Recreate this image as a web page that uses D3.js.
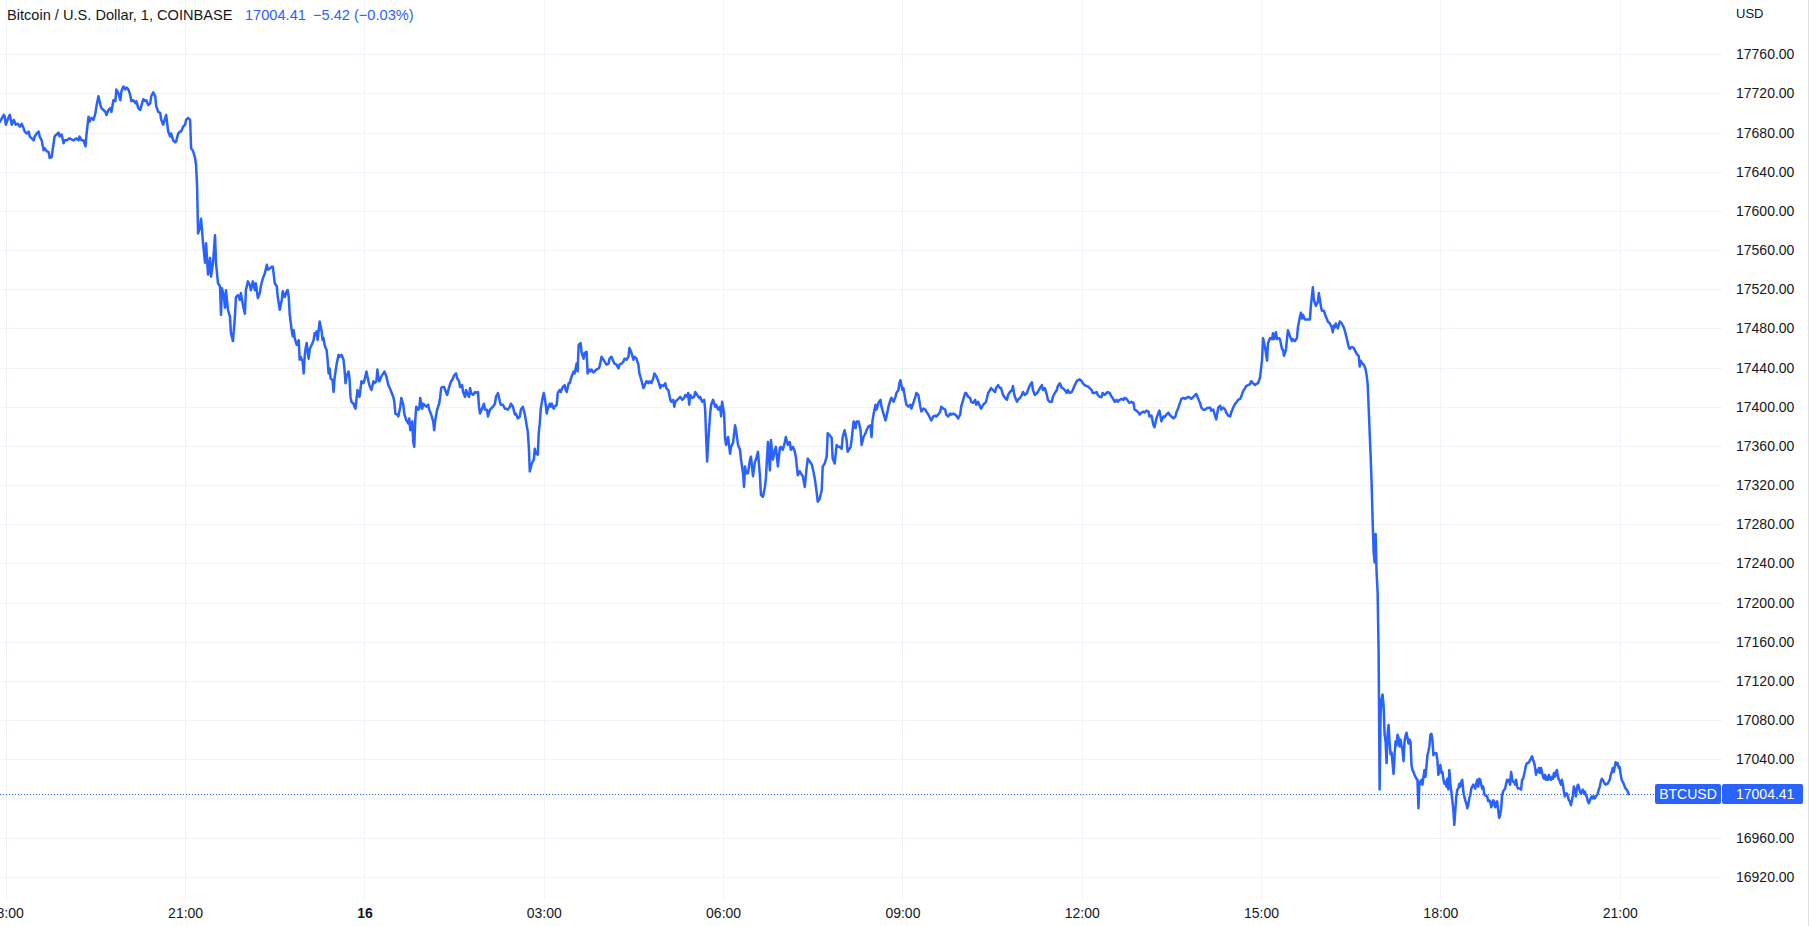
<!DOCTYPE html>
<html><head><meta charset="utf-8">
<script src="https://cdn.jsdelivr.net/npm/d3@7"></script>
<style>
html,body{margin:0;padding:0;background:#fff;}
svg{display:block;font-family:"Liberation Sans",Arial,sans-serif;}
</style></head><body>
<svg id="chart" width="1810" height="926"></svg>
<script>
// ---- data (1-minute closes, minutes after 2022-12-15 18:00 UTC) ----
const minuteCloses = [
[-6,17691],[-2,17698],[-1,17696],[0,17688],[3,17696],[4,17698],[6,17688],[8,17693],[10,17688],[12,17689],
[14,17686],[16,17689],[18,17684],[19,17681],[21,17679],[23,17681],[24,17676],[26,17674],[28,17672],[29,17676],
[31,17679],[33,17681],[34,17676],[36,17672],[38,17662],[39,17664],[41,17661],[43,17660],[44,17654],[46,17655],
[48,17669],[49,17676],[51,17678],[53,17680],[54,17676],[56,17678],[58,17669],[59,17672],[61,17672],[64,17674],
[68,17672],[71,17674],[73,17672],[74,17676],[76,17672],[78,17672],[80,17666],[81,17678],[83,17696],[84,17691],
[86,17695],[88,17693],[90,17700],[91,17707],[93,17717],[95,17708],[96,17705],[98,17703],[100,17701],[101,17698],
[103,17703],[105,17705],[106,17701],[108,17713],[110,17712],[111,17724],[113,17720],[115,17713],[116,17722],[118,17727],
[120,17724],[121,17726],[123,17724],[125,17718],[126,17712],[128,17713],[130,17710],[131,17712],[133,17705],[135,17703],
[136,17707],[138,17714],[140,17712],[141,17713],[143,17708],[145,17710],[146,17717],[148,17721],[150,17717],[151,17707],
[153,17701],[155,17700],[156,17693],[158,17688],[160,17695],[161,17698],[163,17681],[165,17676],[166,17679],[168,17672],
[170,17670],[171,17671],[173,17679],[175,17681],[176,17681],[178,17686],[180,17688],[181,17693],[183,17695],[185,17693],
[186,17664],[188,17661],[190,17654],[191,17647],[192,17625],[193,17577],[195,17584],[196,17592],[198,17567],[200,17547],
[201,17567],[203,17535],[205,17552],[206,17533],[208,17547],[210,17575],[211,17547],[213,17526],[215,17523],[216,17494],
[217,17521],[219,17512],[220,17501],[221,17519],[223,17499],[225,17492],[226,17475],[228,17467],[230,17492],[231,17512],
[233,17514],[235,17509],[236,17516],[238,17504],[240,17495],[241,17519],[243,17528],[245,17524],[246,17519],[248,17528],
[250,17519],[251,17526],[253,17511],[255,17516],[256,17523],[258,17531],[260,17536],[262,17545],[263,17540],[265,17541],
[267,17543],[268,17543],[270,17526],[272,17523],[273,17512],[275,17499],[277,17509],[278,17518],[280,17512],[282,17518],
[283,17519],[284,17512],[285,17494],[287,17478],[288,17472],[289,17478],[290,17470],[292,17463],[294,17468],[295,17448],
[296,17451],[298,17446],[299,17434],[300,17451],[301,17460],[302,17465],[304,17449],[305,17458],[306,17461],[307,17463],
[309,17468],[310,17475],[311,17473],[312,17477],[313,17468],[314,17477],[315,17487],[317,17477],[318,17468],[319,17470],
[320,17463],[322,17458],[323,17448],[324,17434],[325,17439],[326,17429],[328,17427],[329,17415],[330,17429],[332,17443],
[334,17453],[335,17451],[337,17453],[339,17448],[340,17438],[341,17424],[342,17431],[344,17436],[345,17429],[346,17410],
[347,17405],[349,17403],[350,17400],[351,17398],[353,17417],[354,17414],[355,17410],[357,17426],[359,17424],[360,17427],
[362,17436],[364,17426],[365,17422],[367,17417],[369,17426],[370,17424],[372,17426],[373,17438],[374,17429],[375,17426],
[377,17431],[379,17434],[380,17436],[382,17431],[384,17422],[385,17420],[387,17415],[389,17410],[390,17405],[391,17393],
[393,17392],[394,17390],[396,17400],[397,17409],[399,17402],[400,17393],[402,17386],[404,17383],[405,17388],[406,17376],
[408,17385],[409,17364],[410,17359],[411,17386],[412,17400],[414,17397],[415,17398],[416,17409],[418,17398],[419,17403],
[420,17402],[422,17400],[424,17402],[425,17397],[427,17392],[429,17385],[430,17376],[431,17386],[433,17397],[435,17403],
[436,17410],[437,17419],[438,17420],[440,17420],[441,17417],[443,17412],[445,17420],[447,17426],[448,17427],[450,17432],
[452,17434],[453,17429],[455,17426],[456,17420],[458,17422],[459,17415],[461,17410],[462,17417],[463,17414],[465,17410],
[466,17419],[467,17414],[469,17412],[471,17415],[472,17414],[474,17415],[475,17400],[476,17393],[478,17398],[480,17403],
[481,17397],[483,17397],[484,17390],[486,17397],[487,17398],[489,17400],[491,17403],[492,17410],[494,17414],[496,17405],
[497,17402],[499,17402],[501,17398],[502,17398],[504,17397],[506,17400],[507,17403],[509,17400],[511,17392],[512,17393],
[514,17388],[516,17390],[517,17397],[519,17400],[521,17392],[522,17386],[524,17374],[525,17359],[526,17334],[528,17342],
[530,17346],[531,17357],[532,17352],[534,17351],[535,17374],[536,17383],[537,17398],[539,17410],[540,17414],[541,17409],
[542,17402],[543,17393],[544,17398],[546,17403],[547,17400],[548,17403],[550,17398],[551,17400],[553,17402],[554,17414],
[556,17417],[557,17415],[559,17420],[561,17422],[562,17417],[563,17415],[565,17424],[566,17424],[568,17431],[570,17436],
[571,17434],[573,17444],[574,17436],[575,17463],[577,17465],[578,17455],[580,17449],[581,17455],[583,17456],[584,17434],
[586,17438],[587,17436],[588,17438],[590,17435],[591,17436],[593,17438],[595,17439],[596,17441],[598,17451],[600,17448],
[601,17446],[603,17443],[605,17444],[606,17449],[608,17451],[610,17446],[611,17444],[613,17443],[615,17439],[616,17443],
[618,17444],[620,17446],[621,17449],[623,17448],[625,17451],[626,17460],[628,17455],[630,17448],[631,17451],[633,17449],
[635,17443],[636,17434],[638,17427],[640,17419],[641,17421],[643,17426],[645,17424],[646,17426],[648,17424],[650,17429],
[651,17434],[653,17431],[655,17426],[657,17419],[658,17422],[660,17421],[662,17424],[663,17419],[665,17417],[667,17407],
[668,17405],[670,17407],[671,17400],[672,17405],[674,17407],[676,17409],[677,17410],[679,17407],[681,17409],[682,17412],
[684,17410],[685,17414],[686,17402],[687,17412],[689,17409],[691,17410],[692,17415],[694,17412],[696,17409],[697,17410],
[699,17405],[701,17407],[702,17397],[703,17369],[704,17344],[705,17363],[707,17393],[708,17402],[710,17407],[712,17400],
[713,17402],[715,17397],[717,17400],[718,17390],[719,17405],[721,17393],[722,17368],[723,17361],[725,17369],[727,17352],
[728,17359],[730,17363],[732,17381],[733,17376],[735,17361],[737,17356],[738,17346],[740,17332],[741,17318],[742,17339],
[743,17332],[745,17332],[747,17346],[748,17349],[750,17329],[752,17344],[753,17346],[755,17354],[757,17329],[758,17310],
[760,17308],[762,17318],[763,17327],[765,17364],[767,17335],[768,17366],[770,17346],[772,17356],[773,17359],[775,17339],
[777,17358],[778,17359],[780,17356],[782,17364],[783,17369],[785,17361],[787,17364],[788,17356],[790,17359],[792,17354],
[793,17349],[795,17330],[797,17334],[798,17332],[800,17329],[802,17318],[804,17339],[805,17347],[807,17344],[809,17341],
[810,17337],[812,17327],[814,17312],[815,17303],[817,17306],[819,17315],[820,17339],[822,17342],[824,17349],[825,17373],
[827,17371],[829,17368],[830,17347],[832,17342],[834,17361],[835,17359],[837,17359],[839,17357],[840,17369],[842,17376],
[844,17366],[845,17354],[848,17359],[849,17366],[851,17385],[853,17378],[854,17385],[856,17385],[858,17376],[859,17361],
[861,17369],[863,17373],[864,17376],[866,17380],[868,17381],[869,17369],[870,17386],[871,17392],[873,17402],[874,17397],
[876,17404],[878,17407],[879,17400],[881,17393],[883,17386],[884,17390],[886,17400],[888,17407],[889,17409],[891,17405],
[893,17410],[894,17414],[896,17417],[897,17424],[898,17427],[900,17417],[901,17419],[903,17407],[904,17402],[906,17400],
[908,17402],[909,17398],[911,17404],[913,17410],[914,17414],[916,17412],[918,17400],[919,17395],[921,17398],[923,17397],
[924,17395],[926,17392],[928,17388],[929,17386],[931,17390],[933,17391],[934,17390],[936,17392],[938,17395],[939,17400],
[941,17398],[943,17397],[944,17392],[946,17390],[948,17393],[949,17392],[951,17393],[953,17392],[954,17391],[956,17388],
[958,17392],[959,17400],[961,17407],[963,17414],[964,17414],[966,17410],[968,17409],[969,17405],[971,17404],[973,17407],
[974,17402],[976,17405],[978,17400],[979,17398],[981,17402],[983,17404],[984,17405],[986,17414],[988,17417],[989,17419],
[991,17417],[993,17415],[994,17419],[996,17422],[998,17419],[999,17419],[1001,17412],[1003,17409],[1005,17407],[1006,17412],
[1008,17415],[1010,17417],[1011,17421],[1012,17414],[1013,17410],[1015,17405],[1016,17407],[1018,17409],[1020,17412],[1021,17415],
[1023,17412],[1025,17414],[1026,17417],[1028,17422],[1030,17425],[1031,17417],[1033,17412],[1035,17414],[1036,17415],[1038,17419],
[1040,17422],[1041,17417],[1043,17419],[1045,17412],[1046,17407],[1048,17405],[1050,17405],[1051,17410],[1053,17414],[1055,17417],
[1056,17421],[1058,17424],[1060,17419],[1061,17419],[1063,17417],[1065,17414],[1066,17417],[1068,17414],[1070,17415],[1071,17417],
[1073,17422],[1075,17426],[1076,17427],[1078,17428],[1080,17426],[1081,17424],[1083,17422],[1085,17421],[1086,17421],[1088,17419],
[1090,17417],[1091,17414],[1093,17414],[1095,17415],[1096,17412],[1098,17410],[1100,17410],[1101,17414],[1103,17412],[1105,17414],
[1106,17415],[1108,17414],[1110,17410],[1111,17409],[1113,17405],[1115,17407],[1116,17405],[1118,17407],[1120,17408],[1122,17407],
[1123,17409],[1125,17408],[1127,17405],[1128,17404],[1130,17405],[1132,17404],[1133,17397],[1135,17396],[1137,17394],[1138,17392],
[1140,17394],[1142,17395],[1143,17394],[1145,17396],[1147,17395],[1148,17390],[1150,17391],[1152,17381],[1153,17379],[1155,17388],
[1157,17394],[1158,17396],[1160,17385],[1162,17390],[1163,17389],[1165,17392],[1167,17394],[1168,17392],[1170,17390],[1172,17388],
[1174,17390],[1175,17394],[1177,17399],[1179,17405],[1180,17408],[1182,17409],[1184,17408],[1185,17409],[1187,17410],[1189,17409],
[1190,17408],[1192,17410],[1194,17412],[1195,17413],[1197,17408],[1199,17403],[1200,17399],[1202,17397],[1204,17397],[1205,17398],
[1207,17399],[1209,17399],[1210,17396],[1212,17397],[1214,17390],[1215,17387],[1217,17399],[1219,17401],[1220,17397],[1222,17399],
[1224,17397],[1225,17394],[1227,17391],[1229,17390],[1230,17394],[1232,17399],[1234,17403],[1235,17404],[1237,17407],[1239,17408],
[1240,17410],[1242,17416],[1244,17419],[1245,17421],[1247,17422],[1249,17423],[1250,17426],[1252,17424],[1254,17422],[1255,17423],
[1257,17424],[1259,17430],[1261,17448],[1262,17470],[1264,17461],[1266,17447],[1267,17465],[1269,17470],[1271,17469],[1272,17475],
[1273,17469],[1274,17472],[1275,17476],[1276,17469],[1278,17470],[1279,17469],[1281,17459],[1282,17458],[1283,17452],[1285,17458],
[1286,17469],[1287,17478],[1289,17472],[1291,17467],[1292,17469],[1294,17467],[1296,17470],[1297,17481],[1299,17492],[1300,17496],
[1301,17490],[1302,17494],[1304,17489],[1306,17489],[1307,17489],[1309,17489],[1310,17503],[1312,17522],[1313,17509],[1315,17503],
[1316,17505],[1317,17507],[1318,17516],[1320,17503],[1321,17498],[1323,17498],[1325,17492],[1326,17490],[1327,17487],[1329,17485],
[1331,17481],[1332,17476],[1333,17483],[1334,17481],[1335,17485],[1337,17480],[1338,17483],[1339,17487],[1341,17485],[1343,17481],
[1344,17478],[1346,17470],[1348,17461],[1349,17459],[1351,17461],[1353,17460],[1354,17458],[1356,17454],[1358,17452],[1359,17441],
[1360,17447],[1361,17445],[1363,17443],[1364,17441],[1365,17438],[1366,17432],[1367,17423],[1368,17400],[1369,17374],[1370,17350],
[1371,17321],[1372,17284],[1373,17252],[1374,17241],[1375,17270],[1376,17230],[1377,17211],[1378,17150],[1379,17009],[1380,17087],
[1381,17102],[1382,17106],[1383,17095],[1384,17065],[1385,17058],[1386,17036],[1387,17065],[1388,17075],[1389,17058],[1390,17045],
[1391,17047],[1392,17036],[1393,17025],[1394,17044],[1395,17058],[1396,17054],[1397,17065],[1398,17062],[1399,17053],[1400,17060],
[1401,17054],[1402,17049],[1403,17038],[1404,17058],[1405,17064],[1406,17067],[1407,17062],[1408,17056],[1409,17060],[1410,17058],
[1411,17034],[1412,17029],[1413,17027],[1414,17024],[1415,17022],[1416,17020],[1417,17019],[1418,16990],[1419,17017],[1420,17015],
[1421,17019],[1422,17014],[1423,17022],[1424,17029],[1425,17022],[1426,17032],[1427,17044],[1428,17048],[1429,17053],[1430,17065],
[1431,17066],[1432,17060],[1433,17044],[1434,17046],[1435,17046],[1436,17046],[1437,17039],[1438,17024],[1439,17029],[1440,17034],
[1441,17026],[1442,17027],[1443,17020],[1444,17015],[1445,17017],[1446,17012],[1447,17020],[1448,17009],[1449,17029],[1450,17015],
[1451,17007],[1452,16998],[1453,16988],[1454,16973],[1455,16988],[1456,17002],[1457,17009],[1458,17010],[1459,17015],[1460,17012],
[1461,17017],[1462,17019],[1463,17007],[1464,17002],[1465,16998],[1466,16995],[1467,16990],[1468,16993],[1469,17000],[1470,17003],
[1471,17010],[1472,17012],[1473,17014],[1474,17012],[1475,17010],[1476,17015],[1477,17019],[1478,17012],[1479,17020],[1480,17019],
[1481,17014],[1482,17010],[1483,17012],[1484,17005],[1485,17003],[1486,17003],[1487,17002],[1488,16997],[1489,16998],[1490,16997],
[1491,16991],[1492,16993],[1493,16998],[1494,16997],[1495,16991],[1496,16995],[1497,16997],[1498,16988],[1499,16980],[1500,16983],
[1501,16990],[1502,17003],[1503,17007],[1504,17009],[1505,17010],[1506,17015],[1507,17019],[1508,17017],[1509,17019],[1510,17014],
[1511,17027],[1512,17020],[1513,17017],[1514,17017],[1515,17014],[1516,17019],[1517,17012],[1518,17010],[1519,17010],[1520,17010],
[1521,17009],[1522,17019],[1523,17020],[1524,17024],[1525,17029],[1526,17034],[1527,17036],[1528,17036],[1529,17037],[1530,17039],
[1531,17041],[1532,17043],[1533,17039],[1534,17037],[1535,17032],[1536,17024],[1537,17029],[1538,17027],[1539,17031],[1540,17026],
[1541,17031],[1542,17027],[1543,17022],[1544,17020],[1545,17024],[1546,17019],[1547,17022],[1548,17019],[1549,17024],[1550,17020],
[1551,17019],[1552,17022],[1553,17020],[1554,17026],[1555,17022],[1556,17027],[1557,17029],[1558,17022],[1559,17019],[1560,17017],
[1561,17014],[1562,17019],[1563,17014],[1564,17007],[1565,17002],[1566,17005],[1567,17005],[1568,17002],[1569,16998],[1570,16997],
[1571,16993],[1572,16998],[1573,17003],[1574,17012],[1575,17009],[1576,17002],[1577,17010],[1578,17014],[1579,17012],[1580,17007],
[1581,17005],[1582,17007],[1583,17009],[1584,17005],[1585,17007],[1586,17003],[1587,17002],[1588,16997],[1589,16995],[1590,16998],
[1591,17000],[1592,17002],[1593,17000],[1594,17002],[1595,17000],[1596,17002],[1597,17003],[1598,17005],[1599,17009],[1600,17012],
[1601,17017],[1602,17020],[1603,17019],[1604,17017],[1605,17015],[1606,17014],[1607,17015],[1608,17015],[1609,17017],[1610,17019],
[1611,17024],[1612,17027],[1613,17031],[1614,17027],[1615,17032],[1616,17037],[1617,17034],[1618,17036],[1619,17031],[1620,17032],
[1621,17024],[1622,17019],[1623,17017],[1624,17015],[1625,17012],[1626,17010],[1627,17009],[1628,17007],[1629,17004.41]
];
const priceTicks = [16920,16960,17000,17040,17080,17120,17160,17200,17240,17280,17320,17360,17400,17440,17480,17520,17560,17600,17640,17680,17720,17760];
const priceTickLabels = priceTicks.filter(v => v !== 17000);
const timeTickHours = [0,3,6,9,12,15,18,21,24,27];
const timeTickLabels = ["18:00","21:00","16","03:00","06:00","09:00","12:00","15:00","18:00","21:00"];
const titleText = "Bitcoin / U.S. Dollar, 1, COINBASE";
const lastPrice = 17004.41;
const changeText = "\u22125.42 (\u22120.03%)";
const symbolText = "BTCUSD";
const currencyText = "USD";

// ---- layout ----
const W = 1810, H = 926;
const plotW = 1722, plotH = 899;
const BLUE = "#2962FF", TEXT = "#131722", GRID = "#F0F3FA";
const t0 = Date.UTC(2022, 11, 15, 18, 0);

const x = d3.scaleUtc()
  .domain([new Date(t0), new Date(t0 + 27 * 3600e3)])
  .range([5.8, 1619.7]);
const y = d3.scaleLinear().domain([16920, 17760]).range([876.7, 54.2]);

const svg = d3.select("#chart");
svg.append("rect").attr("width", W).attr("height", H).attr("fill", "#fff");

svg.append("defs").append("clipPath").attr("id", "plotclip")
  .append("rect").attr("x", 0).attr("y", 0).attr("width", plotW).attr("height", plotH);

// grid
const timeTickDates = timeTickHours.map(h => new Date(t0 + h * 3600e3));
svg.append("g").selectAll("line").data(priceTicks).join("line")
  .attr("x1", 0).attr("x2", plotW)
  .attr("y1", d => Math.round(y(d)) + 0.5).attr("y2", d => Math.round(y(d)) + 0.5)
  .attr("stroke", GRID).attr("stroke-width", 1);
svg.append("g").selectAll("line").data(timeTickDates).join("line")
  .attr("y1", 0).attr("y2", plotH)
  .attr("x1", d => Math.round(x(d)) + 0.5).attr("x2", d => Math.round(x(d)) + 0.5)
  .attr("stroke", GRID).attr("stroke-width", 1);

// right border
svg.append("line").attr("x1", 1808.5).attr("x2", 1808.5).attr("y1", 0).attr("y2", H)
  .attr("stroke", "#E0E3EB").attr("stroke-width", 1);

// last price dotted line
const yLast = y(lastPrice);
svg.append("line").attr("x1", 0).attr("x2", 1655)
  .attr("y1", Math.round(yLast) + 0.5).attr("y2", Math.round(yLast) + 0.5)
  .attr("stroke", BLUE).attr("stroke-width", 1).attr("stroke-dasharray", "1,2");

// price line
const data = minuteCloses.map(d => ({ t: new Date(t0 + d[0] * 60000), v: d[1] }));
const line = d3.line().x(d => x(d.t)).y(d => y(d.v));
svg.append("g").attr("clip-path", "url(#plotclip)")
  .append("path").datum(data)
  .attr("d", line)
  .attr("fill", "none").attr("stroke", BLUE).attr("stroke-width", 2.5)
  .attr("stroke-linejoin", "round").attr("stroke-linecap", "round");

// y axis
const yAxis = d3.axisRight(y).tickValues(priceTickLabels)
  .tickFormat(d => d.toFixed(2)).tickSize(0).tickPadding(14);
const gy = svg.append("g").attr("transform", `translate(${plotW},0)`).call(yAxis);
gy.select(".domain").remove();
gy.selectAll("text").attr("fill", TEXT).style("font-size", "14px")
  .style("font-family", '"Liberation Sans",Arial,sans-serif');

svg.append("text").attr("x", plotW + 14).attr("y", 13).attr("dy", "0.35em")
  .attr("fill", TEXT).style("font-size", "13px").text(currencyText);

// x axis
const xAxis = d3.axisBottom(x).tickValues(timeTickDates)
  .tickFormat((d, i) => timeTickLabels[i]).tickSize(0).tickPadding(9);
const gx = svg.append("g").attr("transform", `translate(0,${plotH})`).call(xAxis);
gx.select(".domain").remove();
gx.selectAll("text").attr("fill", TEXT).style("font-size", "14px")
  .style("font-family", '"Liberation Sans",Arial,sans-serif')
  .style("font-weight", (d, i) => timeTickLabels[i] === "16" ? "bold" : "normal");

// last price labels
const boxY = yLast - 10;
svg.append("rect").attr("x", 1655).attr("y", boxY).attr("width", 66).attr("height", 20)
  .attr("rx", 2).attr("fill", BLUE);
svg.append("text").attr("x", 1688).attr("y", yLast).attr("dy", "0.35em")
  .attr("text-anchor", "middle").attr("fill", "#fff").style("font-size", "14px").text(symbolText);
svg.append("rect").attr("x", 1722).attr("y", boxY).attr("width", 81).attr("height", 20)
  .attr("rx", 2).attr("fill", BLUE);
svg.append("text").attr("x", plotW + 14).attr("y", yLast).attr("dy", "0.35em")
  .attr("fill", "#fff").style("font-size", "14px").text(lastPrice.toFixed(2));

// header
svg.append("text").attr("x", 7).attr("y", 19.5).attr("fill", TEXT).style("font-size", "14.6px").text(titleText);
svg.append("text").attr("x", 245).attr("y", 19.5).attr("fill", BLUE).style("font-size", "14.6px").text(lastPrice.toFixed(2));
svg.append("text").attr("x", 313).attr("y", 19.5).attr("fill", BLUE).style("font-size", "14.6px").text(changeText);
</script>
</body></html>
